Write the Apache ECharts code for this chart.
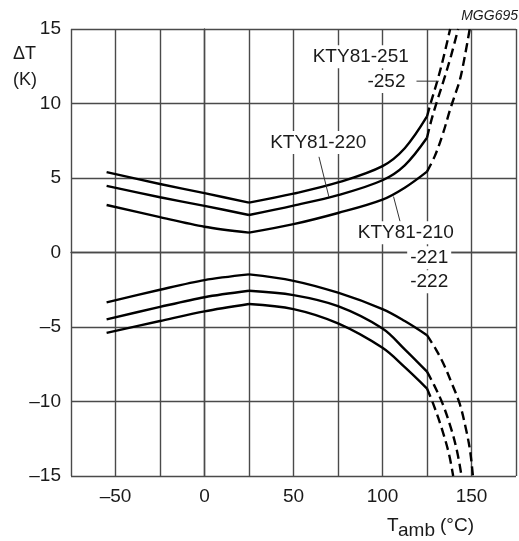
<!DOCTYPE html>
<html>
<head>
<meta charset="utf-8">
<script src="https://cdn.jsdelivr.net/npm/echarts@6/dist/echarts.min.js"></script>
<style>
  html, body { margin: 0; padding: 0; background: #fff; }
  #chart { width: 519px; height: 541px; }
</style>
</head>
<body>
<div id="chart"></div>
<script>
  // temperature points (deg C) of the solid parts
  const T_LEFT = [-55, -25, 0, 25];
  const T_RIGHT = [25, 50, 75, 100, 112.5, 125];

  // upper tolerance curves (K)
  const upOuterLeft = [5.39, 4.6, 3.98, 3.35];
  const upOuterRight = [3.35, 3.95, 4.7, 5.8, 7.0, 9.13];
  const upMidLeft = [4.47, 3.71, 3.13, 2.52];
  const upMidRight = [2.52, 3.15, 3.85, 4.85, 5.85, 7.7];
  const upInnerLeft = [3.19, 2.37, 1.73, 1.33];
  const upInnerRight = [1.33, 1.9, 2.65, 3.55, 4.35, 5.43];

  // lower tolerance curves (K)
  const loOuterLeft = [-5.39, -4.6, -3.95, -3.46];
  const loOuterRight = [-3.46, -3.8, -4.76, -6.4, -7.7, -9.13];
  const loMidLeft = [-4.49, -3.65, -3.0, -2.57];
  const loMidRight = [-2.57, -2.86, -3.6, -5.1, -6.5, -8.0];
  const loInnerLeft = [-3.35, -2.5, -1.85, -1.47];
  const loInnerRight = [-1.47, -1.9, -2.7, -3.8, -4.6, -5.55];

  // dashed extensions above 125 deg C, [T, dT]
  const upOuterDash = [[125, 9.13], [127, 10], [131, 11.6], [134.5, 13.2], [138, 15]];
  const upMidDash = [[125, 7.7], [127.5, 8.9], [130.5, 10.1], [134.5, 11.6], [138.5, 13.2], [142.5, 15]];
  const upInnerDash = [[125, 5.43], [129.5, 6.5], [134, 8], [138, 9.6], [140.5, 10.5], [143.5, 11.6], [146.3, 13.2], [149, 15]];
  const loInnerDash = [[125, -5.55], [130, -6.5], [134, -7.4], [139, -8.8], [143.5, -10.2], [146.8, -11.8], [149.2, -13.3], [150.8, -15]];
  const loMidDash = [[125, -8], [129, -8.9], [133.7, -10.13], [138.5, -11.8], [142, -13.4], [144.4, -15]];
  const loOuterDash = [[125, -9.13], [128.4, -10.13], [133, -11.7], [137.3, -13.5], [139.7, -15]];

  const X_TICKS = [-50, 0, 50, 100, 150];

  // annotation texts and leader lines, in data coordinates
  const notes = [
    { text: 'KTY81-251', at: [59.1, 13.14], align: 'left' },
    { text: '-252', at: [114.6, 11.48], align: 'right' },
    { text: 'KTY81-220', at: [35.2, 7.38], align: 'left' },
    { text: 'KTY81-210', at: [84.4, 1.33], align: 'left' },
    { text: '-221', at: [138.6, -0.35], align: 'right' },
    { text: '-222', at: [138.6, -1.96], align: 'right' }
  ];
  const leaders = [
    [[119.1, 11.5], [131.6, 11.5]],
    [[64.3, 6.42], [69.9, 3.73]],
    [[109.9, 2.07], [106.2, 3.75]]
  ];

  const FONT = '"Liberation Sans", Arial, sans-serif';
  const INK = '#1a1a1a';

  function zip(xs, ys) {
    return xs.map(function (x, i) { return [x, ys[i]]; });
  }

  function solid(data, sm) {
    return {
      type: 'line', data: data, symbol: 'none', smooth: sm,
      lineStyle: { color: '#000', width: 2.4 }, silent: true
    };
  }
  function dashed(data) {
    return {
      type: 'line', data: data, symbol: 'none', smooth: 0.35,
      lineStyle: { color: '#000', width: 2.4, type: [9, 5] }, silent: true
    };
  }

  const series = [
    solid(zip(T_LEFT, upOuterLeft), 0.3), solid(zip(T_RIGHT, upOuterRight), 0.35), dashed(upOuterDash),
    solid(zip(T_LEFT, upMidLeft), 0.3), solid(zip(T_RIGHT, upMidRight), 0.35), dashed(upMidDash),
    solid(zip(T_LEFT, upInnerLeft), 0.3), solid(zip(T_RIGHT, upInnerRight), 0.35), dashed(upInnerDash),
    solid(zip(T_LEFT, loOuterLeft), 0.3), solid(zip(T_RIGHT, loOuterRight), 0.35), dashed(loOuterDash),
    solid(zip(T_LEFT, loMidLeft), 0.3), solid(zip(T_RIGHT, loMidRight), 0.35), dashed(loMidDash),
    solid(zip(T_LEFT, loInnerLeft), 0.3), solid(zip(T_RIGHT, loInnerRight), 0.35), dashed(loInnerDash)
  ];

  function fmt(v) {
    return v < 0 ? '\u2013' + (-v) : String(v);
  }

  const gridLine = { show: true, lineStyle: { color: '#4a4a4a', width: 1.4 } };

  let chart = echarts.init(document.getElementById('chart'));
  let option = {
    backgroundColor: '#fff',
    animation: false,
    grid: { left: 71, right: 1, top: 29, bottom: 65 },
    xAxis: {
      type: 'value', min: -75, max: 175, interval: 25,
      axisLine: { show: true, lineStyle: { color: '#4a4a4a', width: 1.4 } },
      axisTick: { show: false },
      splitLine: gridLine,
      axisLabel: {
        margin: 11, color: INK, fontSize: 19, fontFamily: FONT,
        formatter: function (v) { return X_TICKS.indexOf(v) >= 0 ? fmt(v) : ''; }
      }
    },
    yAxis: {
      type: 'value', min: -15, max: 15, interval: 5,
      axisLine: { show: true, lineStyle: { color: '#4a4a4a', width: 1.4 } },
      axisTick: { show: false },
      splitLine: gridLine,
      axisLabel: {
        margin: 10, color: INK, fontSize: 19, fontFamily: FONT, formatter: fmt,
        padding: [5, 0, 0, 0]
      }
    },
    series: series
  };
  chart.setOption(option);

  // fixed texts: axis names and drawing code
  let graphics = [
    { type: 'text', x: 13, y: 54, style: { text: '\u0394T', font: '18px ' + FONT, fill: INK, align: 'left', verticalAlign: 'middle', textAlign: 'left', textVerticalAlign: 'middle' } },
    { type: 'text', x: 13, y: 80, style: { text: '(K)', font: '18px ' + FONT, fill: INK, align: 'left', verticalAlign: 'middle', textAlign: 'left', textVerticalAlign: 'middle' } },
    { type: 'text', x: 518, y: 16, style: { text: 'MGG695', font: 'italic 14px ' + FONT, fill: INK, align: 'right', verticalAlign: 'middle', textAlign: 'right', textVerticalAlign: 'middle' } },
    { type: 'text', x: 387, y: 526, style: { text: 'T', font: '19px ' + FONT, fill: INK, align: 'left', verticalAlign: 'middle', textAlign: 'left', textVerticalAlign: 'middle' } },
    { type: 'text', x: 398, y: 531, style: { text: 'amb', font: '19px ' + FONT, fill: INK, align: 'left', verticalAlign: 'middle', textAlign: 'left', textVerticalAlign: 'middle' } },
    { type: 'text', x: 440, y: 526, style: { text: '(\u00b0C)', font: '19px ' + FONT, fill: INK, align: 'left', verticalAlign: 'middle', textAlign: 'left', textVerticalAlign: 'middle' } }
  ];

  leaders.forEach(function (seg) {
    let a = chart.convertToPixel({ gridIndex: 0 }, seg[0]);
    let b = chart.convertToPixel({ gridIndex: 0 }, seg[1]);
    graphics.push({
      type: 'line', z: 10, silent: true,
      shape: { x1: a[0], y1: a[1], x2: b[0], y2: b[1] },
      style: { stroke: '#333', lineWidth: 1 }
    });
  });

  notes.forEach(function (n) {
    let p = chart.convertToPixel({ gridIndex: 0 }, n.at);
    graphics.push({
      type: 'text', z: 10, silent: true, x: p[0], y: p[1],
      style: {
        text: n.text, font: '19px ' + FONT, fill: INK,
        align: n.align, verticalAlign: 'middle',
        textAlign: n.align, textVerticalAlign: 'middle',
        backgroundColor: '#fff', padding: [2, 3]
      }
    });
  });

  chart.setOption({ graphic: graphics });

  window.addEventListener('resize', function () {
    chart.resize();
  });
</script>
</body>
</html>
